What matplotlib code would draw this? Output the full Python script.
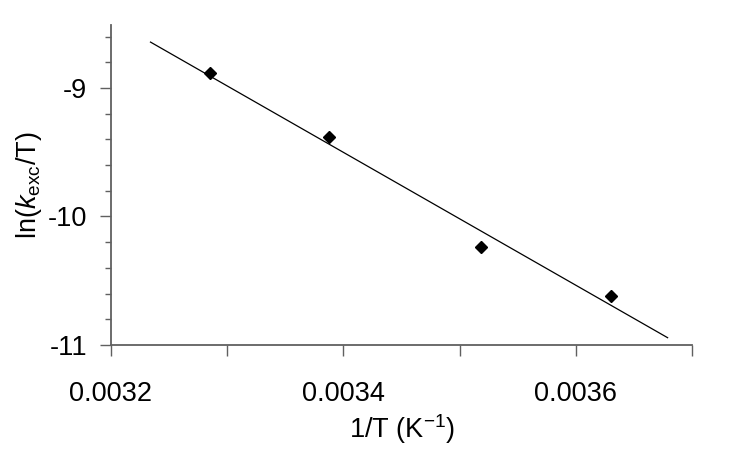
#!/usr/bin/env python3

import matplotlib
matplotlib.use("Agg")
import matplotlib.pyplot as plt
from matplotlib.ticker import MultipleLocator, FormatStrFormatter

# data
invT = [0.003285, 0.003388, 0.003518, 0.003630]
lnKT = [-8.88, -9.38, -10.235, -10.616]

# fitted line end points
fitX = [0.003234, 0.003679]
fitY = [-8.643, -10.943]

plt.rcParams["font.family"] = ["Liberation Sans", "DejaVu Sans"]
plt.rcParams["mathtext.fontset"] = "custom"
plt.rcParams["mathtext.rm"] = "Liberation Sans"
plt.rcParams["mathtext.it"] = "Liberation Sans:italic"
plt.rcParams["axes.unicode_minus"] = False

fig = plt.figure(figsize=(7.35, 4.51), dpi=100)
ax = fig.add_axes([0.151, 0.235, 0.7905, 0.7096])

ax.plot(fitX, fitY, color="black", lw=0.9)
ax.plot(invT, lnKT, linestyle="none", marker="D", color="black", markersize=6)

ax.set_xlim(0.0032, 0.0037)
ax.set_ylim(-11, -8.51)

ax.xaxis.set_major_locator(MultipleLocator(0.0002))
ax.xaxis.set_minor_locator(MultipleLocator(0.0001))
ax.xaxis.set_major_formatter(FormatStrFormatter("%.4f"))
ax.yaxis.set_major_locator(MultipleLocator(1))
ax.yaxis.set_minor_locator(MultipleLocator(0.2))
ax.yaxis.set_major_formatter(FormatStrFormatter("%d"))

for side in ["top", "right"]:
	ax.spines[side].set_visible(False)
for side in ["left", "bottom"]:
	ax.spines[side].set_color("#606060")
	ax.spines[side].set_linewidth(1.3)

ax.tick_params(axis="x", which="both", direction="out", length=8, width=1, color="#606060",
	labelsize=19.5, pad=18)
ax.tick_params(axis="y", which="major", direction="out", length=8, width=1, color="#606060",
	labelsize=19.5, pad=9)
ax.tick_params(axis="y", which="minor", direction="out", length=4.5, width=1, color="#606060")

ax.set_xlabel("1/T (K$^{-1}$)", fontsize=19.5, labelpad=4)
ax.set_ylabel(r"ln($\mathit{k}_{\rm exc}$/T)", fontsize=19.5, labelpad=3)

fig.savefig("out.png", dpi=100)
